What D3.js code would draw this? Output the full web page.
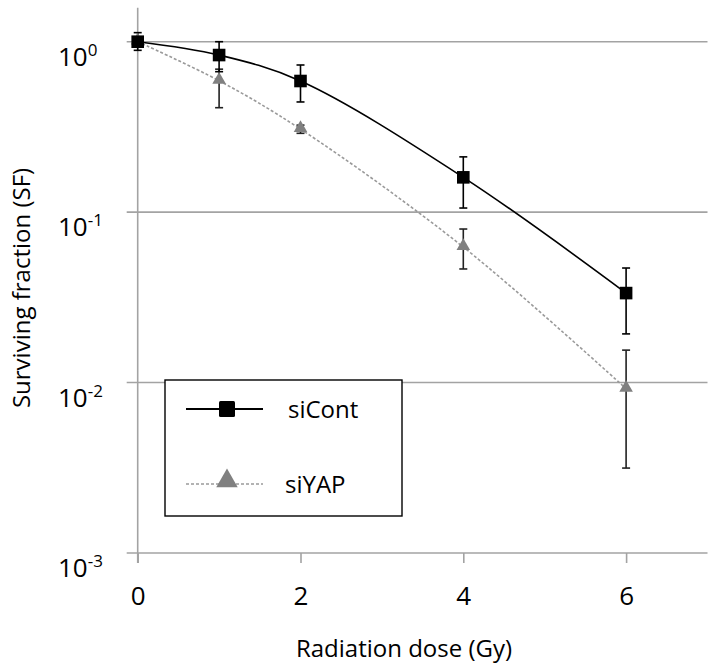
<!DOCTYPE html>
<html><head><meta charset="utf-8">
<script src="https://cdn.jsdelivr.net/npm/d3@7"></script>
<style>
html,body{margin:0;padding:0;background:#fff;}
svg{display:block;font-family:"Open Sans",sans-serif;}
</style></head>
<body>
<svg id="c" width="716" height="670"></svg>
<script>
// ---- data ----
const doses = [0, 1, 2, 4, 6];
const siCont   = [1.0, 0.835, 0.588, 0.160, 0.0335];
const siContLo = [0.89, 0.667, 0.443, 0.1057, 0.0193];
const siContHi = [1.13, 1.0, 0.730, 0.211, 0.047];
const siYAP    = [1.0, 0.59, 0.307, 0.0624, 0.0092];
const siYAPLo  = [0.95, 0.41, 0.29, 0.0464, 0.00315];
const siYAPHi  = [1.05, 0.69, 0.324, 0.0796, 0.0155];
const xTicks = [0, 2, 4, 6];
const yTicks = [1, 0.1, 0.01, 0.001];
const yTickExp = ["0", "-1", "-2", "-3"];
const seriesNames = ["siCont", "siYAP"];
const xTitle = "Radiation dose (Gy)";
const yTitle = "Surviving fraction (SF)";

// ---- layout ----
const svg = d3.select("#c");
const x = d3.scaleLinear().domain([0, 7]).range([137.7, 707.5]);
const y = d3.scaleLog().domain([0.001, 1]).range([553, 41.7]);
const yAxisTop = 1.58;
const gridColor = "#a3a3a3";

// gridlines (with left tick stubs)
svg.append("g").selectAll("line").data(yTicks).join("line")
  .attr("x1", x(0) - 11).attr("x2", x(7))
  .attr("y1", d => y(d)).attr("y2", d => y(d))
  .attr("stroke", gridColor).attr("stroke-width", 1.6);

// y axis line
svg.append("line").attr("x1", x(0)).attr("x2", x(0))
  .attr("y1", y(yAxisTop)).attr("y2", y(0.001) + 10)
  .attr("stroke", gridColor).attr("stroke-width", 1.6);

// x axis
const xAxis = svg.append("g").attr("transform", `translate(0,${y(0.001)})`)
  .call(d3.axisBottom(x).tickValues(xTicks).tickSize(10).tickPadding(24).tickFormat(d3.format("d")));
xAxis.select(".domain").remove();
xAxis.selectAll(".tick line").attr("stroke", gridColor).attr("stroke-width", 1.6);
xAxis.selectAll(".tick text").attr("fill", "#000").attr("font-size", 26)
  .attr("font-family", "'Open Sans', sans-serif");

// y tick labels
const yl = svg.append("g").selectAll("text").data(yTicks).join("text")
  .attr("x", 58).attr("y", d => y(d) + 24)
  .attr("font-size", 26).attr("fill", "#000");
yl.append("tspan").text("10");
yl.append("tspan").attr("dy", -10).attr("font-size", 17).text((d, i) => yTickExp[i]);

// titles
svg.append("text").attr("x", 404).attr("y", 657).attr("text-anchor", "middle")
  .attr("font-size", 24).attr("fill", "#000").text(xTitle);
svg.append("text").attr("transform", "translate(30,288) rotate(-90)")
  .attr("text-anchor", "middle").attr("font-size", 24).attr("fill", "#000").text(yTitle);

// curves
const toPts = vals => doses.map((d, i) => [x(d), y(vals[i])]);
const line = d3.line().curve(d3.curveCatmullRom.alpha(0.5));
svg.append("path").attr("d", line(toPts(siYAP))).attr("fill", "none")
  .attr("stroke", "#9a9a9a").attr("stroke-width", 1.6).attr("stroke-dasharray", "3,2");
svg.append("path").attr("d", line(toPts(siCont))).attr("fill", "none")
  .attr("stroke", "#000").attr("stroke-width", 1.6);

// error bars
function errBars(lo, hi, color) {
  const g = svg.append("g").attr("stroke", color).attr("stroke-width", 1.6);
  doses.forEach((d, i) => {
    const cx = x(d);
    g.append("line").attr("x1", cx).attr("x2", cx).attr("y1", y(lo[i])).attr("y2", y(hi[i]));
    g.append("line").attr("x1", cx - 4).attr("x2", cx + 4).attr("y1", y(lo[i])).attr("y2", y(lo[i]));
    g.append("line").attr("x1", cx - 4).attr("x2", cx + 4).attr("y1", y(hi[i])).attr("y2", y(hi[i]));
  });
}
errBars(siYAPLo, siYAPHi, "#222");
errBars(siContLo, siContHi, "#000");

// markers
const tri = d3.symbol().type(d3.symbolTriangle).size(80);
svg.append("g").selectAll("path").data(doses).join("path")
  .attr("d", tri).attr("fill", "#808080")
  .attr("transform", (d, i) => `translate(${x(d)},${y(siYAP[i]) - 1})`);
svg.append("g").selectAll("rect").data(doses).join("rect")
  .attr("x", d => x(d) - 6.3).attr("y", (d, i) => y(siCont[i]) - 6.3)
  .attr("width", 12.6).attr("height", 12.6).attr("fill", "#000");

// legend
const lg = svg.append("g");
lg.append("rect").attr("x", 165).attr("y", 380).attr("width", 237).attr("height", 136)
  .attr("fill", "#fff").attr("stroke", "#000").attr("stroke-width", 1.4);
lg.append("line").attr("x1", 186).attr("x2", 263).attr("y1", 409).attr("y2", 409)
  .attr("stroke", "#000").attr("stroke-width", 2);
lg.append("rect").attr("x", 219).attr("y", 401).attr("width", 16).attr("height", 16).attr("rx", 1.5).attr("fill", "#000");
lg.append("text").attr("x", 288).attr("y", 418).attr("font-size", 24).attr("fill", "#000").text(seriesNames[0]);
lg.append("line").attr("x1", 186).attr("x2", 263).attr("y1", 484).attr("y2", 484)
  .attr("stroke", "#9a9a9a").attr("stroke-width", 1.6).attr("stroke-dasharray", "3,2");
lg.append("path").attr("d", d3.symbol().type(d3.symbolTriangle).size(200))
  .attr("transform", "translate(227,481)").attr("fill", "#808080");
lg.append("text").attr("x", 285).attr("y", 493).attr("font-size", 24).attr("fill", "#000").text(seriesNames[1]);
</script>
</body></html>
